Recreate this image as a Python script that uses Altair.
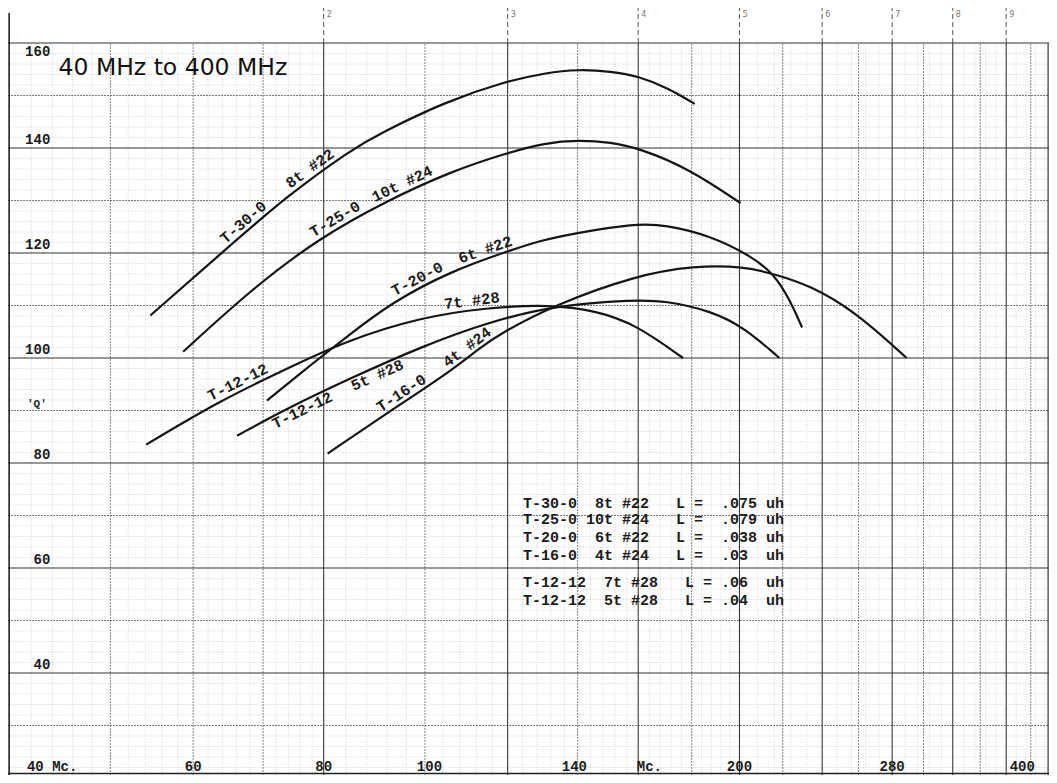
import math
import altair as alt
import numpy as np
import pandas as pd

# ---------------- data ----------------
# frequency in MHz, Q
t30_freq = [54.6, 63.7, 73.8, 85.2, 90.4, 104.8, 119.5, 130.4, 140.2, 150.7, 160.0, 170.9, 181.2]
t30_q    = [108.1, 119.8, 130.9, 139.8, 142.7, 148.9, 152.7, 154.3, 155.0, 154.6, 153.7, 151.4, 148.4]

t25_freq = [58.7, 68.5, 79.3, 91.8, 106.1, 119.5, 130.4, 140.2, 150.7, 160.0, 178.5, 200.5]
t25_q    = [101.2, 113.4, 122.9, 129.9, 135.6, 139.0, 141.0, 141.5, 141.1, 140.0, 136.2, 129.5]

t20_freq = [70.6, 77.1, 84.1, 93.1, 106.1, 119.5, 128.4, 139.3, 158.9, 169.7, 187.7, 204.9, 216.0, 223.7, 229.6]
t20_q    = [91.9, 98.1, 104.0, 110.7, 116.6, 120.2, 122.3, 123.8, 125.6, 125.4, 123.3, 119.5, 116.0, 110.9, 105.8]

t16_freq = [80.7, 91.8, 106.1, 112.6, 118.4, 133.0, 158.9, 181.2, 202.2, 216.0, 233.7, 257.5, 289.1]
t16_q    = [81.8, 89.4, 97.6, 101.8, 104.8, 110.1, 115.7, 117.6, 117.4, 116.0, 113.8, 109.0, 100.0]

t12a_freq = [54.1, 63.7, 73.8, 84.1, 98.8, 114.4, 132.2, 145.6, 158.9, 176.6]
t12a_q    = [83.5, 91.9, 98.0, 103.3, 107.7, 109.6, 110.2, 109.0, 106.5, 100.0]

t12b_freq = [66.1, 73.8, 85.2, 98.8, 114.4, 133.0, 158.9, 169.7, 187.7, 202.2, 218.4]
t12b_q    = [85.2, 90.4, 96.3, 102.0, 106.7, 110.0, 111.1, 110.9, 109.0, 105.8, 100.0]

series_names = ["T-30-0", "T-25-0", "T-20-0", "T-16-0", "T-12-12 7t", "T-12-12 5t"]
series_freq = [t30_freq, t25_freq, t20_freq, t16_freq, t12a_freq, t12b_freq]
series_q = [t30_q, t25_q, t20_q, t16_q, t12a_q, t12b_q]

# curve labels: text, which curve (index into series), centre frequency, side (+1 above, -1 below)
curve_label_text = ["T-30-0", "8t #22", "T-25-0", "10t #24", "T-20-0", "6t #22", "7t #28",
                    "T-12-12", "T-12-12", "5t #28", "T-16-0", "4t #24"]
curve_label_series = [0, 0, 1, 1, 2, 2, 4, 4, 5, 5, 3, 3]
curve_label_freq = [67.0, 77.6, 82.0, 95.1, 98.3, 114.2, 110.9, 66.2, 76.3, 90.0, 94.9, 109.7]
curve_label_side = [1, 1, 1, 1, 1, 1, 1, 1, -1, -1, 1, 1]

legend_lines = [
    "T-30-0  8t #22   L =  .075 uh",
    "T-25-0 10t #24   L =  .079 uh",
    "T-20-0  6t #22   L =  .038 uh",
    "T-16-0  4t #24   L =  .03  uh",
    "T-12-12  7t #28   L = .06  uh",
    "T-12-12  5t #28   L = .04  uh",
]
legend_q = [72.4, 69.4, 65.9, 62.5, 57.3, 53.9]

y_tick_values = [160, 140, 120, 100, 80, 60, 40]
x_tick_labels = ["40 Mc.", "60", "80", "100", "140", "Mc.", "200", "280", "400"]
x_tick_pos = [41.6, 60, 80, 101, 139, 164, 200, 280, 373]
paper_digits = [2, 3, 4, 5, 6, 7, 8, 9]

title_text = "40 MHz to 400 MHz"

# ---------------- scales ----------------
F_MIN, F_MAX = 39.9, 395.6
Q_MIN, Q_MAX = 20.57, 166.67
Q_TOP = 160
W, H = 1041, 767
PX_PER_Q = H / (Q_MAX - Q_MIN)
PX_PER_DEC = W / math.log10(F_MAX / F_MIN)

xs = alt.Scale(type="log", domain=[F_MIN, F_MAX], nice=False, zero=False)
ys = alt.Scale(domain=[Q_MIN, Q_MAX], nice=False, zero=False)


def X(f):
    return alt.X(f, type="quantitative", scale=xs, axis=None)


def Y(f):
    return alt.Y(f, type="quantitative", scale=ys, axis=None)


# ---------------- graph paper grid ----------------
def frange(a, b, step):
    out = []
    k = 0
    while True:
        v = round(a + k * step, 4)
        if v > b + 1e-9:
            break
        out.append(v)
        k += 1
    return out

heavy_d = [2, 3, 4, 5, 6, 7, 8, 9]
medium_d = [1.25, 1.5, 1.75, 2.5, 3.5, 4.5, 5.5, 6.5, 7.5, 8.5, 9.5]
fine_d = [d for d in frange(1.05, 2.0, 0.05) + frange(2.1, 5.0, 0.1) + frange(5.2, 9.9, 0.2)
          if all(abs(d - h) > 1e-6 for h in heavy_d + medium_d)]

def vlines(ds, q0, q1):
    return pd.DataFrame({"f": [40 * d for d in ds], "q0": q0, "q1": q1})

def hlines(qs):
    return pd.DataFrame({"q": qs, "f0": F_MIN, "f1": F_MAX})

q_fine = [q for q in range(22, 160, 2) if q % 10 != 0]
q_med = [q for q in range(30, 160, 10) if q % 20 != 0]
q_heavy = [40, 60, 80, 100, 120, 140, 160]

def vrule(df, color, width, dash=None):
    kw = dict(color=color, strokeWidth=width)
    if dash:
        kw["strokeDash"] = dash
    return alt.Chart(df).mark_rule(**kw).encode(x=X("f"), y=Y("q0"), y2=alt.Y2("q1"))

def hrule(df, color, width, dash=None):
    kw = dict(color=color, strokeWidth=width)
    if dash:
        kw["strokeDash"] = dash
    return alt.Chart(df).mark_rule(**kw).encode(y=Y("q"), x=X("f0"), x2=alt.X2("f1"))

grid = [
    vrule(vlines(fine_d, Q_MIN, Q_TOP), "#c4c4c4", 0.7, [1, 1.5]),
    hrule(hlines(q_fine), "#c4c4c4", 0.7, [1, 1.5]),
    vrule(vlines(medium_d, Q_MIN, Q_TOP), "#7a7a7a", 0.9, [2, 1]),
    hrule(hlines(q_med), "#6a6a6a", 0.9, [2, 1]),
    hrule(hlines(q_heavy), "#333333", 1.2),
    vrule(vlines(heavy_d, Q_MIN, Q_TOP), "#3a3a3a", 1.1),
    vrule(vlines(heavy_d, Q_TOP, Q_MAX), "#555555", 1.0, [5, 3]),
    vrule(pd.DataFrame({"f": [40.0], "q0": [Q_MIN], "q1": [165.7]}), "#222222", 1.6),
    vrule(pd.DataFrame({"f": [F_MAX * 0.998], "q0": [Q_MIN], "q1": [Q_TOP]}), "#333333", 1.2),
    hrule(pd.DataFrame({"q": [Q_MIN + 0.3], "f0": [F_MIN], "f1": [F_MAX]}), "#222222", 1.6),
]

# ---------------- curves ----------------
rows = []
for name, fl, ql in zip(series_names, series_freq, series_q):
    for i, (f, q) in enumerate(zip(fl, ql)):
        rows.append({"series": name, "f": f, "q": q, "i": i})
curves_df = pd.DataFrame(rows)

curves = alt.Chart(curves_df).mark_line(
    color="#151515", strokeWidth=2.2, interpolate="basis"
).encode(x=X("f"), y=Y("q"), detail="series:N", order="i:Q")

# ---------------- curve labels, hugging their curve ----------------
def curve_at(idx, f):
    return float(np.interp(math.log10(f), np.log10(series_freq[idx]), series_q[idx]))

def slope_deg(idx, f, h=0.025):
    q1 = curve_at(idx, f * 10 ** -h)
    q2 = curve_at(idx, f * 10 ** h)
    dy = (q2 - q1) * PX_PER_Q
    dx = 2 * h * PX_PER_DEC
    return math.degrees(math.atan2(dy, dx))

LABEL_GAP_PX = 9.0
lab_rows = []
for t, s, f, side in zip(curve_label_text, curve_label_series, curve_label_freq, curve_label_side):
    ang = slope_deg(s, f)
    gap = LABEL_GAP_PX if side > 0 else 8.0
    q = curve_at(s, f) + side * (gap / math.cos(math.radians(ang))) / PX_PER_Q
    lab_rows.append({"t": t, "f": f, "q": q, "a": (360 - ang) % 360})

mono = "Liberation Mono"
ink = "#1c1c1c"

curve_labels = []
for r in lab_rows:
    curve_labels.append(
        alt.Chart(pd.DataFrame([r])).mark_text(
            font=mono, fontWeight="bold", fontSize=15.5, color=ink, angle=float(r["a"]),
            align="center", baseline="middle"
        ).encode(x=X("f"), y=Y("q"), text="t:N")
    )

NBSP = "\u00a0"
legend_df = pd.DataFrame({"t": [s.replace(" ", NBSP) for s in legend_lines], "q": legend_q, "f": 124.1})
legend = alt.Chart(legend_df).mark_text(
    font=mono, fontWeight="bold", fontSize=15, color=ink, align="left", baseline="middle"
).encode(x=X("f"), y=Y("q"), text="t:N")

title = alt.Chart(pd.DataFrame({"t": [title_text], "f": [44.6], "q": [155.2]})).mark_text(
    font="DejaVu Sans", fontSize=23.5, color="#111111", align="left", baseline="middle"
).encode(x=X("f"), y=Y("q"), text="t:N")

yt_df = pd.DataFrame({"t": [str(v) for v in y_tick_values], "q": y_tick_values, "f": 43.8})
ytop = alt.Chart(yt_df[yt_df["q"] == 160]).mark_text(
    font=mono, fontWeight="bold", fontSize=14, color=ink, align="right", baseline="top", dy=2
).encode(x=X("f"), y=Y("q"), text="t:N")
yrest = alt.Chart(yt_df[yt_df["q"] != 160]).mark_text(
    font=mono, fontWeight="bold", fontSize=14, color=ink, align="right", baseline="bottom", dy=-1
).encode(x=X("f"), y=Y("q"), text="t:N")

qlab = alt.Chart(pd.DataFrame({"t": ["'Q'"], "f": [41.6], "q": [91.2]})).mark_text(
    font=mono, fontWeight="bold", fontSize=11, color=ink, align="left", baseline="middle"
).encode(x=X("f"), y=Y("q"), text="t:N")

xt_df = pd.DataFrame({"t": x_tick_labels, "f": x_tick_pos, "q": 22.1})
xfirst = alt.Chart(xt_df.iloc[:1]).mark_text(
    font=mono, fontWeight="bold", fontSize=14, color=ink, align="left", baseline="middle"
).encode(x=X("f"), y=Y("q"), text="t:N")
xrest = alt.Chart(xt_df.iloc[1:]).mark_text(
    font=mono, fontWeight="bold", fontSize=14, color=ink, align="center", baseline="middle"
).encode(x=X("f"), y=Y("q"), text="t:N")

pd_df = pd.DataFrame({"t": [str(d) for d in paper_digits], "f": [40 * d for d in paper_digits], "q": 165.4})
paper_lab = alt.Chart(pd_df).mark_text(
    font="DejaVu Sans", fontSize=8, color="#777777", align="left", baseline="middle", dx=3
).encode(x=X("f"), y=Y("q"), text="t:N")

chart = alt.layer(
    *grid, curves, *curve_labels, legend, title, ytop, yrest, qlab, xfirst, xrest, paper_lab
).properties(
    width=W, height=H, padding=0, autosize=alt.AutoSizeParams(type="none"), background="white"
).configure_view(stroke=None)

chart.save("out.html", embed_options={"renderer": "svg", "actions": False})
